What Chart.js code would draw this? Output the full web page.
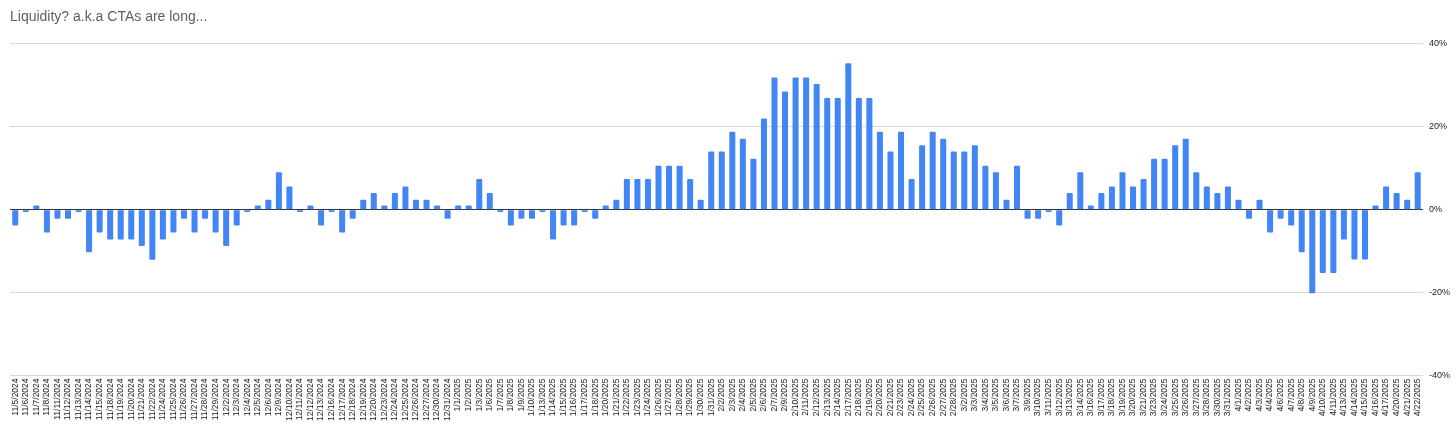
<!DOCTYPE html>
<html>
<head>
    <style>
        html, body { margin: 0; padding: 0; background: #fff; }
        #wrap { width: 1456px; height: 424px; }
    </style>
    <script src="https://cdn.jsdelivr.net/npm/chart.js"></script>
</head>
<body>
    <div id="wrap"><canvas id="chart" width="1456" height="424"></canvas></div>
    <script>
        // trading days on the x axis
        const dates = [
            '11/5/2024', '11/6/2024', '11/7/2024', '11/8/2024', '11/11/2024', '11/12/2024', '11/13/2024', '11/14/2024',
            '11/15/2024', '11/18/2024', '11/19/2024', '11/20/2024', '11/21/2024', '11/22/2024', '11/24/2024', '11/25/2024',
            '11/26/2024', '11/27/2024', '11/28/2024', '11/29/2024', '12/2/2024', '12/3/2024', '12/4/2024', '12/5/2024',
            '12/6/2024', '12/9/2024', '12/10/2024', '12/11/2024', '12/12/2024', '12/13/2024', '12/16/2024', '12/17/2024',
            '12/18/2024', '12/19/2024', '12/20/2024', '12/23/2024', '12/24/2024', '12/25/2024', '12/26/2024', '12/27/2024',
            '12/30/2024', '12/31/2024', '1/1/2025', '1/2/2025', '1/3/2025', '1/6/2025', '1/7/2025', '1/8/2025',
            '1/9/2025', '1/10/2025', '1/13/2025', '1/14/2025', '1/15/2025', '1/16/2025', '1/17/2025', '1/18/2025',
            '1/20/2025', '1/21/2025', '1/22/2025', '1/23/2025', '1/24/2025', '1/26/2025', '1/27/2025', '1/28/2025',
            '1/29/2025', '1/30/2025', '1/31/2025', '2/2/2025', '2/3/2025', '2/4/2025', '2/5/2025', '2/6/2025',
            '2/7/2025', '2/9/2025', '2/10/2025', '2/11/2025', '2/12/2025', '2/13/2025', '2/14/2025', '2/17/2025',
            '2/18/2025', '2/19/2025', '2/20/2025', '2/21/2025', '2/23/2025', '2/24/2025', '2/25/2025', '2/26/2025',
            '2/27/2025', '2/28/2025', '3/2/2025', '3/3/2025', '3/4/2025', '3/5/2025', '3/6/2025', '3/7/2025',
            '3/9/2025', '3/10/2025', '3/11/2025', '3/12/2025', '3/13/2025', '3/14/2025', '3/16/2025', '3/17/2025',
            '3/18/2025', '3/19/2025', '3/20/2025', '3/21/2025', '3/23/2025', '3/24/2025', '3/25/2025', '3/26/2025',
            '3/27/2025', '3/28/2025', '3/30/2025', '3/31/2025', '4/1/2025', '4/2/2025', '4/3/2025', '4/4/2025',
            '4/6/2025', '4/7/2025', '4/8/2025', '4/9/2025', '4/10/2025', '4/11/2025', '4/13/2025', '4/14/2025',
            '4/15/2025', '4/16/2025', '4/17/2025', '4/20/2025', '4/21/2025', '4/22/2025'
        ];

        // percent values
        const values = [
            -3.8, -0.6, 1.0, -5.5, -2.2, -2.2, -0.6, -10.3,
            -5.5, -7.2, -7.2, -7.2, -8.8, -12.1, -7.2, -5.5,
            -2.2, -5.5, -2.2, -5.5, -8.8, -3.8, -0.6, 1.0,
            2.4, 9.0, 5.6, -0.6, 1.0, -3.8, -0.6, -5.5,
            -2.2, 2.4, 4.0, 1.0, 4.0, 5.6, 2.4, 2.4,
            1.0, -2.2, 1.0, 1.0, 7.4, 4.0, -0.6, -3.8,
            -2.2, -2.2, -0.6, -7.2, -3.8, -3.8, -0.6, -2.2,
            1.0, 2.4, 7.4, 7.4, 7.4, 10.6, 10.6, 10.6,
            7.4, 2.4, 14.0, 14.0, 18.8, 17.1, 12.3, 22.0,
            31.9, 28.5, 31.9, 31.9, 30.3, 26.9, 26.9, 35.3,
            26.9, 26.9, 18.8, 14.0, 18.8, 7.4, 15.5, 18.8,
            17.1, 14.0, 14.0, 15.5, 10.6, 9.0, 2.4, 10.6,
            -2.2, -2.2, -0.6, -3.8, 4.0, 9.0, 1.0, 4.0,
            5.6, 9.0, 5.6, 7.4, 12.3, 12.3, 15.5, 17.1,
            9.0, 5.6, 4.0, 5.6, 2.4, -2.2, 2.4, -5.5,
            -2.2, -3.8, -10.3, -20.2, -15.3, -15.3, -7.2, -12.0,
            -12.0, 1.0, 5.6, 4.0, 2.4, 9.0
        ];

        const yTicks = [-40, -20, 0, 20, 40];

        new Chart(document.getElementById('chart'), {
            type: 'bar',
            data: {
                labels: dates,
                datasets: [{
                    data: values,
                    backgroundColor: '#4285f4',
                    borderRadius: 1,
                    barPercentage: 0.57,
                    categoryPercentage: 1.0
                }]
            },
            options: {
                responsive: false,
                animation: false,
                layout: { padding: { left: 10, right: 0, top: 0, bottom: 0 } },
                plugins: {
                    legend: { display: false },
                    tooltip: { enabled: false },
                    title: {
                        display: true,
                        text: 'Liquidity? a.k.a CTAs are long...',
                        align: 'start',
                        color: '#5f5f5f',
                        font: { family: 'Arial, "Liberation Sans", sans-serif', size: 14, weight: 'normal' },
                        padding: { top: 9, bottom: 18 }
                    }
                },
                scales: {
                    x: {
                        grid: { display: false, drawTicks: false, tickLength: 0 },
                        border: { display: false },
                        ticks: {
                            autoSkip: false,
                            minRotation: 90,
                            maxRotation: 90,
                            color: '#222',
                            padding: 3,
                            font: { family: 'Arial, "Liberation Sans", sans-serif', size: 8.5 }
                        }
                    },
                    y: {
                        position: 'right',
                        min: -40,
                        max: 40,
                        afterBuildTicks: axis => { axis.ticks = yTicks.map(v => ({ value: v })); },
                        border: { display: false },
                        grid: {
                            drawTicks: false,
                            color: ctx => ctx.tick && ctx.tick.value === 0 ? '#333333' : '#d9d9d9',
                            lineWidth: 1
                        },
                        ticks: {
                            padding: 6,
                            color: '#222',
                            font: { family: 'Arial, "Liberation Sans", sans-serif', size: 9 },
                            callback: v => v + '%'
                        }
                    }
                }
            }
        });
    </script>
</body>
</html>
